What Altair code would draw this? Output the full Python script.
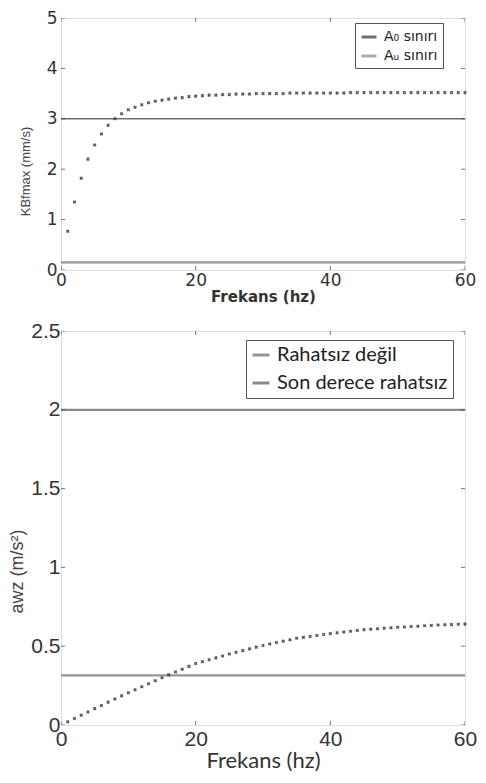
import altair as alt
import pandas as pd

# ---------- data ----------
top_freq = list(range(1, 61))
top_vals = [0.77, 1.35, 1.82, 2.20, 2.48, 2.70, 2.87, 3.00, 3.10, 3.18,
            3.23, 3.28, 3.32, 3.35, 3.37, 3.39, 3.41, 3.42, 3.44, 3.45,
            3.46, 3.47, 3.47, 3.48, 3.48, 3.49, 3.49, 3.49, 3.50, 3.50,
            3.50, 3.50, 3.50, 3.51, 3.51, 3.51, 3.51, 3.51, 3.51, 3.51,
            3.51, 3.51, 3.52, 3.52, 3.52, 3.52, 3.52, 3.52, 3.52, 3.52,
            3.52, 3.52, 3.52, 3.52, 3.52, 3.52, 3.52, 3.52, 3.52, 3.52]
top_limit_names = ["A₀ sınırı", "Aᵤ sınırı"]
top_limit_vals = [3.0, 0.15]

bot_freq = list(range(1, 61))
bot_vals = [0.020, 0.041, 0.062, 0.083, 0.104, 0.124, 0.145, 0.165, 0.185, 0.205,
            0.224, 0.243, 0.262, 0.281, 0.300, 0.318, 0.336, 0.354, 0.372, 0.390,
            0.402, 0.414, 0.426, 0.438, 0.450, 0.461, 0.472, 0.483, 0.494, 0.505,
            0.514, 0.523, 0.532, 0.541, 0.550, 0.556, 0.562, 0.568, 0.574, 0.580,
            0.585, 0.590, 0.595, 0.600, 0.605, 0.608, 0.611, 0.614, 0.617, 0.620,
            0.622, 0.625, 0.627, 0.630, 0.632, 0.634, 0.636, 0.637, 0.639, 0.640]
bot_limit_names = ["Rahatsız değil", "Son derece rahatsız"]
bot_limit_vals = [0.315, 2.0]

x_ticks = [0, 20, 40, 60]
top_y_ticks = [0, 1, 2, 3, 4, 5]
bot_y_ticks = [0, 0.5, 1, 1.5, 2, 2.5]

FRAME = "#3a3a3a"
LABEL = "#333333"


def panel(freq, vals, lnames, lvals, yticks, ymax, w, h, ytitle,
          lab_font, lab_size, xt_font, xt_size, xt_weight, yt_font, yt_size,
          leg_font, leg_size, leg_x, leg_y, leg_rowpad, leg_sym, colors, lwidths,
          title_pad, ylab_pad, title_y, xlab_pad):
    pts = pd.DataFrame({"f": freq, "v": vals})
    lim = pd.DataFrame({"name": lnames, "v": lvals, "w": lwidths})
    xs = alt.Scale(domain=[0, 60], nice=False, zero=False)
    ys = alt.Scale(domain=[0, ymax], nice=False)

    xaxis = alt.Axis(values=x_ticks, grid=False, domain=False, ticks=False,
                     format="~g",
                     labelFont=lab_font, labelFontSize=lab_size, labelColor=LABEL,
                     labelPadding=xlab_pad, labelFlush=False,
                     title="Frekans (hz)", titleFont=xt_font, titleFontSize=xt_size,
                     titleFontWeight=xt_weight, titleColor=LABEL, titlePadding=1)
    yaxis = alt.Axis(values=yticks, grid=False, domain=False, ticks=False,
                     format="~g",
                     labelFont=lab_font, labelFontSize=lab_size, labelColor=LABEL,
                     labelPadding=ylab_pad, labelFlush=False,
                     title=ytitle, titleFont=yt_font, titleFontSize=yt_size,
                     titleFontWeight="normal", titleColor="#444",
                     titlePadding=title_pad, titleY=title_y)

    points = alt.Chart(pts).mark_point(shape="cross", angle=45, filled=True,
                                       size=13, color="#3c3c3c", opacity=0.85).encode(
        x=alt.X("f:Q", scale=xs, axis=xaxis),
        y=alt.Y("v:Q", scale=ys, axis=yaxis),
    )
    rules = alt.Chart(lim).mark_rule().encode(
        y=alt.Y("v:Q", scale=ys),
        strokeWidth=alt.StrokeWidth("w:Q", scale=None, legend=None),
        color=alt.Color("name:N",
                        scale=alt.Scale(domain=lnames, range=colors),
                        legend=alt.Legend(orient="none", legendX=leg_x, legendY=leg_y,
                                          title=None, strokeColor="#555",
                                          fillColor="white", padding=5,
                                          labelFont=leg_font, labelFontSize=leg_size,
                                          labelColor="#222", symbolType="stroke",
                                          symbolSize=leg_sym, symbolStrokeWidth=3,
                                          labelLimit=400,
                                          rowPadding=leg_rowpad, labelOffset=6)),
    )
    # inward tick marks (clipped at the frame)
    xt = pd.DataFrame({"t": x_ticks})
    yt = pd.DataFrame({"t": yticks})
    xt_b = alt.Chart(xt).mark_tick(orient="vertical", clip=True, size=8,
                                   color=FRAME, thickness=1).encode(
        x=alt.X("t:Q", scale=xs), y=alt.datum(0, scale=ys))
    xt_t = alt.Chart(xt).mark_tick(orient="vertical", clip=True, size=8,
                                   color=FRAME, thickness=1).encode(
        x=alt.X("t:Q", scale=xs), y=alt.datum(ymax, scale=ys))
    yt_l = alt.Chart(yt).mark_tick(orient="horizontal", clip=True, size=8,
                                   color=FRAME, thickness=1).encode(
        y=alt.Y("t:Q", scale=ys), x=alt.datum(0, scale=xs))
    yt_r = alt.Chart(yt).mark_tick(orient="horizontal", clip=True, size=8,
                                   color=FRAME, thickness=1).encode(
        y=alt.Y("t:Q", scale=ys), x=alt.datum(60, scale=xs))
    return alt.layer(rules, points, xt_b, xt_t, yt_l, yt_r).properties(width=w, height=h)


top = panel(top_freq, top_vals, top_limit_names, top_limit_vals, top_y_ticks, 5,
            404, 252, "KBfmax (mm/s)",
            "DejaVu Sans", 17, "DejaVu Sans", 15, "bold", "Liberation Sans", 13,
            "DejaVu Sans", 14, 294, 5, 3, 225, ["#6e6e6e", "#a8a8a8"], [1.5, 2.8],
            14, 4, 153, 2)

bottom = panel(bot_freq, bot_vals, bot_limit_names, bot_limit_vals, bot_y_ticks, 2.5,
               404, 394, "awz     (m/s²)",
               "Liberation Sans", 21, "Lato", 22, "normal", "Liberation Sans", 18,
               "Lato", 20, 185, 9, 8, 289, ["#959595", "#8a8a8a"], [2.2, 2.2],
               4, 1, 240, 3)

chart = alt.vconcat(top, bottom, spacing=14).resolve_scale(
    x="independent", y="independent", color="independent"
).resolve_legend(color="independent").properties(
    padding={"left": 0, "top": 0, "right": 0, "bottom": 0}
).configure_view(stroke=FRAME, strokeWidth=2).configure(background="white")

chart.save("out.html", embed_options={"renderer": "svg", "actions": False})
